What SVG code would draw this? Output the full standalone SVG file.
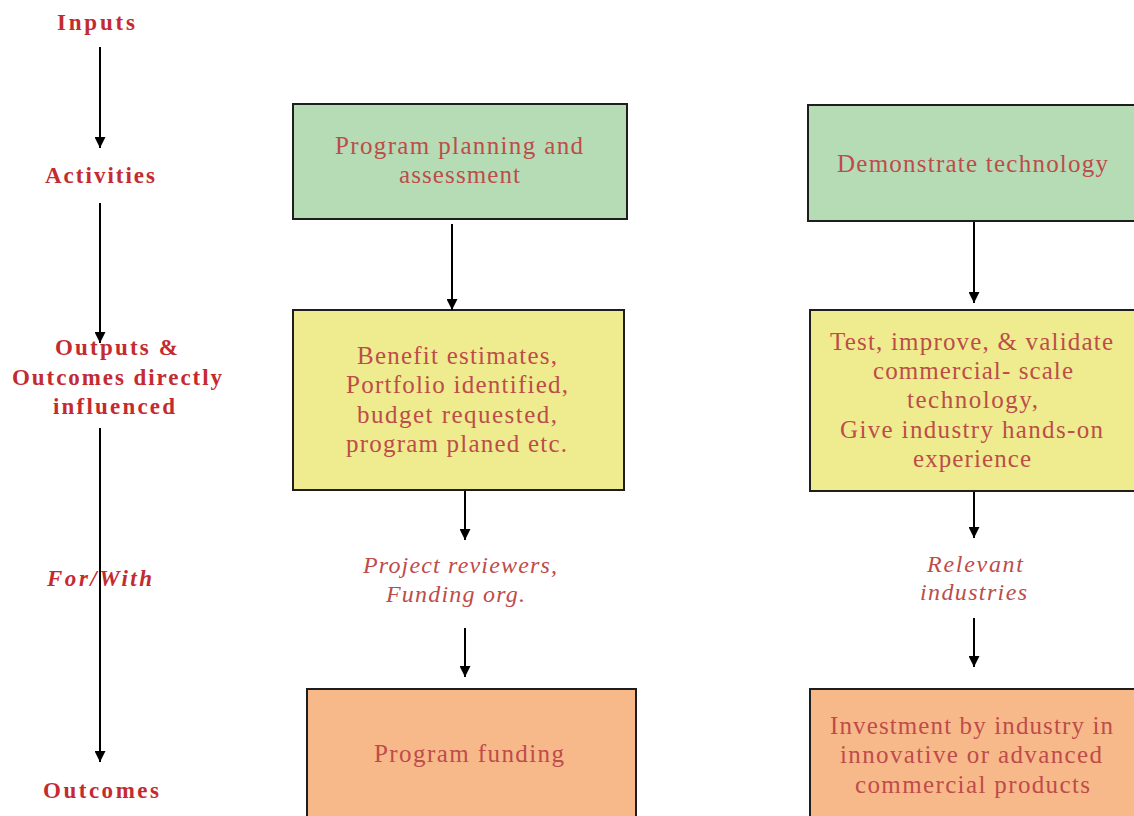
<svg xmlns="http://www.w3.org/2000/svg" width="1134" height="816" viewBox="0 0 1134 816">
<style>
.lbl{font-family:"Liberation Serif","Times New Roman",serif;font-size:23px;font-weight:bold;fill:#c42b30;text-anchor:start}
.t{font-family:"Liberation Serif","Times New Roman",serif;font-size:25px;fill:#bd4c4a;text-anchor:start}
.it{font-family:"Liberation Serif","Times New Roman",serif;font-size:24px;font-style:italic;fill:#bd4c4a;text-anchor:start}
.box{stroke:#1e1e1e;stroke-width:2}
.g{fill:#b6dcb6}.y{fill:#eeec8e}.o{fill:#f8b98a}
.c{stroke:#000;stroke-width:2;fill:none;marker-end:url(#ah)}
</style>
<defs>
<marker id="ah" markerUnits="userSpaceOnUse" markerWidth="11" markerHeight="11" refX="10" refY="5" orient="auto" viewBox="0 0 10 10">
<path d="M0,0 L10,5 L0,10 Z" fill="#000"/>
</marker>
</defs>
<rect width="1134" height="816" fill="#fff"/>
<g id="axis-labels">
<text class="lbl" x="57" y="30" textLength="78" lengthAdjust="spacing">Inputs</text>
<text class="lbl" x="45" y="183" textLength="110" lengthAdjust="spacing">Activities</text>
<text class="lbl" x="55" y="355" textLength="123" lengthAdjust="spacing">Outputs &amp;</text>
<text class="lbl" x="12" y="385" textLength="210" lengthAdjust="spacing">Outcomes directly</text>
<text class="lbl" x="53" y="414" textLength="122" lengthAdjust="spacing">influenced</text>
<text class="lbl" x="47" y="586" font-style="italic" textLength="105" lengthAdjust="spacing">For/With</text>
<text class="lbl" x="43" y="798" textLength="116" lengthAdjust="spacing">Outcomes</text>
</g>
<g id="n1">
<rect class="box g" x="293" y="104" width="334" height="115"/>
<text class="t" x="335" y="154" textLength="248" lengthAdjust="spacing">Program planning and</text>
<text class="t" x="399" y="183" textLength="121" lengthAdjust="spacing">assessment</text>
</g>
<g id="n2">
<rect class="box y" x="293" y="310" width="331" height="180"/>
<text class="t" x="357" y="364" textLength="200" lengthAdjust="spacing">Benefit estimates,</text>
<text class="t" x="346" y="393" textLength="222" lengthAdjust="spacing">Portfolio identified,</text>
<text class="t" x="357" y="423" textLength="200" lengthAdjust="spacing">budget requested,</text>
<text class="t" x="346" y="452" textLength="221" lengthAdjust="spacing">program planed etc.</text>
</g>
<g id="n3">
<text class="it" x="363" y="573" textLength="194" lengthAdjust="spacing">Project reviewers,</text>
<text class="it" x="386" y="602" textLength="139" lengthAdjust="spacing">Funding org.</text>
</g>
<g id="n4">
<rect class="box o" x="307" y="689" width="329" height="140"/>
<text class="t" x="374" y="762" textLength="190" lengthAdjust="spacing">Program funding</text>
</g>
<g id="n5">
<rect class="box g" x="808" y="105" width="340" height="116"/>
<text class="t" x="837" y="172" textLength="271" lengthAdjust="spacing">Demonstrate technology</text>
</g>
<g id="n6">
<rect class="box y" x="810" y="310" width="340" height="181"/>
<text class="t" x="830" y="350" textLength="283" lengthAdjust="spacing">Test, improve,  &amp; validate</text>
<text class="t" x="873" y="379" textLength="200" lengthAdjust="spacing">commercial- scale</text>
<text class="t" x="907" y="408" textLength="131" lengthAdjust="spacing">technology,</text>
<text class="t" x="840" y="438" textLength="263" lengthAdjust="spacing">Give industry hands-on</text>
<text class="t" x="913" y="467" textLength="118" lengthAdjust="spacing">experience</text>
</g>
<g id="n7">
<text class="it" x="927" y="572" textLength="96" lengthAdjust="spacing">Relevant</text>
<text class="it" x="920" y="600" textLength="107" lengthAdjust="spacing">industries</text>
</g>
<g id="n8">
<rect class="box o" x="810" y="689" width="340" height="140"/>
<text class="t" x="830" y="734" textLength="283" lengthAdjust="spacing">Investment by industry in</text>
<text class="t" x="840" y="763" textLength="262" lengthAdjust="spacing">innovative or advanced</text>
<text class="t" x="855" y="793" textLength="235" lengthAdjust="spacing">commercial products</text>
</g>
<g id="connectors">
<line class="c" x1="100" y1="47" x2="100" y2="148"/>
<line class="c" x1="100" y1="203" x2="100" y2="343"/>
<line class="c" x1="100" y1="428" x2="100" y2="762"/>
<line class="c" x1="452" y1="224" x2="452" y2="310"/>
<line class="c" x1="465" y1="491" x2="465" y2="540"/>
<line class="c" x1="465" y1="628" x2="465" y2="677"/>
<line class="c" x1="974" y1="222" x2="974" y2="303"/>
<line class="c" x1="974" y1="492" x2="974" y2="538"/>
<line class="c" x1="974" y1="618" x2="974" y2="667"/>
</g>
</svg>
